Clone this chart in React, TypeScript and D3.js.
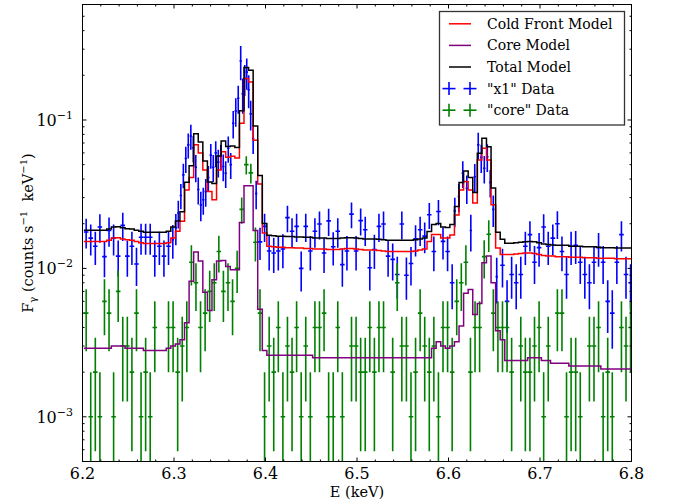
import React from 'react';
import * as d3 from 'd3';

const WIDTH = 678;
const HEIGHT = 504;
const PLOT = { left: 82.5, right: 631.5, top: 4.5, bottom: 461.5 };
const X_DOMAIN: [number, number] = [6.2, 6.8];
const Y_DOMAIN: [number, number] = [5e-4, 0.6];

// spectral binning (keV)
const BIN_START = 6.2015;
const BIN_WIDTH = 0.005;

// model spectra, one value per bin (counts s^-1 keV^-1)
const coldFrontModel = [
  0.0152, 0.0152, 0.0152, 0.0152, 0.0152, 0.0155, 0.0160, 0.0161, 0.0158, 0.0156,
  0.0155, 0.0152, 0.0149, 0.0147, 0.0147, 0.0147, 0.0147, 0.0147, 0.0149, 0.0160,
  0.0178, 0.0208, 0.0338, 0.0410, 0.0680, 0.0600, 0.0460, 0.0330, 0.0290, 0.0460,
  0.0610, 0.0560, 0.0570, 0.0555, 0.0950, 0.1900, 0.1800, 0.0730, 0.0370, 0.0173,
  0.0141, 0.0140, 0.0139, 0.0139, 0.0138, 0.0138, 0.0137, 0.0137, 0.0136, 0.0136,
  0.0135, 0.0135, 0.0135, 0.0134, 0.0134, 0.0134, 0.0135, 0.0136, 0.0136, 0.0135,
  0.0134, 0.0133, 0.0133, 0.0133, 0.0132, 0.0131, 0.0130, 0.0130, 0.0130, 0.0130,
  0.0130, 0.0130, 0.0131, 0.0133, 0.0135, 0.0152, 0.0169, 0.0169, 0.0160, 0.0160,
  0.0168, 0.0229, 0.0338, 0.0385, 0.0338, 0.0276, 0.0538, 0.0645, 0.0538, 0.0268,
  0.0137, 0.0124, 0.0124, 0.0124, 0.0125, 0.0126, 0.0127, 0.0127, 0.0126, 0.0124,
  0.0122, 0.0121, 0.0121, 0.0120, 0.0120, 0.0120, 0.0119, 0.0119, 0.0119, 0.0118,
  0.0118, 0.0118, 0.0117, 0.0117, 0.0117, 0.0117, 0.0116, 0.0116, 0.0116, 0.0116,
];

const coreModel = [
  0.0029, 0.0029, 0.0029, 0.0029, 0.0029, 0.0029, 0.0030, 0.0030, 0.0030, 0.0029,
  0.0029, 0.0029, 0.0029, 0.0028, 0.0028, 0.0028, 0.0028, 0.0028, 0.0029, 0.0030,
  0.0031, 0.0033, 0.0043, 0.0082, 0.0129, 0.0112, 0.0069, 0.0052, 0.0084, 0.0112,
  0.0113, 0.0103, 0.0098, 0.0098, 0.0204, 0.0360, 0.0360, 0.0180, 0.0053, 0.0028,
  0.0026, 0.0026, 0.0026, 0.0026, 0.0026, 0.0026, 0.0026, 0.0026, 0.0026, 0.0026,
  0.0025, 0.0025, 0.0025, 0.0025, 0.0025, 0.0025, 0.0025, 0.0025, 0.0025, 0.0025,
  0.0025, 0.0025, 0.0025, 0.0025, 0.0025, 0.0025, 0.0025, 0.0025, 0.0025, 0.0025,
  0.0025, 0.0025, 0.0025, 0.0025, 0.0025, 0.0025, 0.0029, 0.0032, 0.0030, 0.0029,
  0.0030, 0.0032, 0.0041, 0.0068, 0.0072, 0.0049, 0.0058, 0.0109, 0.0121, 0.0080,
  0.0038, 0.0033, 0.0024, 0.0024, 0.0024, 0.0024, 0.0024, 0.0025, 0.0025, 0.0025,
  0.0024, 0.0024, 0.0023, 0.0023, 0.0023, 0.0023, 0.0022, 0.0022, 0.0022, 0.0022,
  0.0022, 0.0022, 0.0022, 0.0021, 0.0021, 0.0021, 0.0021, 0.0021, 0.0021, 0.0021,
];

// "x1" data on the regular bins (null where the line peaks are finely grouped)
const X1_COUNT_FLUX = 0.0009;
const x1GridFlux: (number | null)[] = [
  0.0176, 0.0160, 0.0141, 0.0190, 0.0120, 0.0180, 0.0160, 0.0121, 0.0195, 0.0121,
  0.0141, 0.0107, 0.0162, 0.0162, 0.0162, 0.0121, 0.0141, 0.0121, 0.0141, null,
  null, null, null, null, null, null, null, null, null, null,
  null, null, null, null, null, null, null, null, 0.0151, 0.0192,
  0.0131, 0.0127, 0.0131, 0.0135, 0.0220, 0.0178, 0.0192, 0.0100, 0.0192, 0.0131,
  0.0178, 0.0199, 0.0127, 0.0209, 0.0140, 0.0178, 0.0106, 0.0131, 0.0232, 0.0131,
  0.0210, 0.0182, 0.0101, 0.0134, 0.0192, 0.0199, 0.0121, 0.0115, 0.0091, 0.0199,
  0.0090, 0.0108, 0.0158, 0.0182, 0.0165, 0.0230, 0.0130, 0.0242, 0.0152, 0.0130,
  0.0080, null, null, null, null, null, null, null, null, null,
  null, 0.0105, 0.0060, 0.0091, 0.0080, 0.0091, 0.0141, 0.0169, 0.0110, 0.0138,
  0.0190, 0.0141, 0.0160, 0.0200, 0.0130, 0.0091, 0.0141, 0.0143, 0.0110, 0.0091,
  0.0080, 0.0110, 0.0138, 0.0110, 0.0060, 0.0050, 0.0110, 0.0169, 0.0091, 0.0080,
];

// "x1" data in the finely grouped line regions
const x1PeakEnergy = [
  6.2987, 6.3020, 6.3047, 6.3075, 6.3102, 6.3129, 6.3156, 6.3184, 6.3211, 6.3238,
  6.3265, 6.3293, 6.3320, 6.3347, 6.3375, 6.3402, 6.3429, 6.3456, 6.3484, 6.3511,
  6.3538, 6.3565, 6.3593, 6.3620, 6.3647, 6.3675, 6.3702, 6.3729, 6.3751, 6.3773,
  6.3795, 6.3816, 6.3838, 6.3865, 6.3898,
  6.6069, 6.6113, 6.6156, 6.6200, 6.6244, 6.6287, 6.6325, 6.6358, 6.6391, 6.6424,
  6.6456, 6.6489, 6.6527,
];
const x1PeakFlux = [
  0.0156, 0.0188, 0.0236, 0.0310, 0.0427, 0.0550, 0.0680, 0.0780, 0.0650, 0.0480,
  0.0340, 0.0268, 0.0290, 0.0330, 0.0410, 0.0580, 0.0480, 0.0600, 0.0520, 0.0570,
  0.0486, 0.0438, 0.0645, 0.0500, 0.0950, 0.1150, 0.1400, 0.2500, 0.1500, 0.1900,
  0.2100, 0.1600, 0.1100, 0.0750, 0.0320,
  0.0244, 0.0305, 0.0438, 0.0347, 0.0180, 0.0415, 0.0680, 0.0560, 0.0473, 0.0566,
  0.0380, 0.0250, 0.0088,
];
const x1PeakErr = [
  0.0040, 0.0045, 0.0050, 0.0060, 0.0080, 0.0110, 0.0130, 0.0150, 0.0130, 0.0100,
  0.0070, 0.0060, 0.0060, 0.0070, 0.0080, 0.0110, 0.0100, 0.0120, 0.0110, 0.0110,
  0.0100, 0.0090, 0.0130, 0.0100, 0.0200, 0.0250, 0.0300, 0.0650, 0.0400, 0.0450,
  0.0500, 0.0400, 0.0250, 0.0160, 0.0070,
  0.0055, 0.0065, 0.0090, 0.0075, 0.0050, 0.0090, 0.0140, 0.0120, 0.0100, 0.0120,
  0.0080, 0.0060, 0.0030,
];

// "core" data: counts per bin
const CORE_COUNT_FLUX = 0.001;
const coreCounts = [
  5, 1, 2, 1, 6, 5, 1, 7, 3, 3,
  2, 5, 1, 2, 1, 4, 0, 0, 4, 4,
  2, 3, 4, 11, 8, 4, 5, 7, 8, 13,
  7, 8, 6, 10, 25, 50, 44, 15, 5, 1,
  3, 2, 4, 1, 3, 2, 4, 1, 3, 1,
  4, 4, 5, 1, 1, 4, 1, 0, 3, 3,
  2, 2, 4, 2, 4, 4, 0, 2, 8, 3,
  3, 1, 2, 5, 3, 2, 3, 1, 4, 4,
  2, 6, 8, 11, 2, 4, 4, 12, 17, 5,
  4, 4, 4, 2, 0, 3, 2, 2, 3, 4,
  1, 3, 0, 5, 5, 1, 2, 2, 1, 0,
  3, 3, 4, 1, 2, 1, 0, 4, 3, 4,
];

const xTicks = [6.2, 6.3, 6.4, 6.5, 6.6, 6.7, 6.8];
const xTickLabels = ['6.2', '6.3', '6.4', '6.5', '6.6', '6.7', '6.8'];
const yTicks = [1e-3, 1e-2, 1e-1];
const yTickExponents = ['\u22123', '\u22122', '\u22121'];

const legendLabels = ['Cold Front Model', 'Core Model', 'Total Model', '"x1" Data', '"core" Data'];
const legendColors = ['#ff0000', '#800080', '#000000', '#0000ff', '#008000'];
const legendKinds = ['line', 'line', 'line', 'cross', 'cross'];

const FONT = 'DejaVu Serif, serif';

type Pt = { e: number; v: number; err: number; hw: number };

export default function App() {
  const x = d3.scaleLinear().domain(X_DOMAIN).range([PLOT.left, PLOT.right]);
  const y = d3.scaleLog().domain(Y_DOMAIN).range([PLOT.bottom, PLOT.top]);
  const nb = coldFrontModel.length;
  const edges = d3.range(nb + 1).map((i) =>
    Math.min(X_DOMAIN[1], Math.max(X_DOMAIN[0], BIN_START + i * BIN_WIDTH))
  );
  const centers = d3.range(nb).map((i) => BIN_START + (i + 0.5) * BIN_WIDTH);
  const totalModel = coldFrontModel.map((v, i) => v + coreModel[i]);

  const step = d3
    .line<[number, number]>()
    .x((d) => x(d[0]))
    .y((d) => y(d[1]))
    .curve(d3.curveStepAfter);
  const stepPath = (vals: number[]) =>
    step([...vals.map((v, i) => [edges[i], v] as [number, number]), [edges[nb], vals[nb - 1]]]) || '';

  const x1Points: Pt[] = [];
  x1GridFlux.forEach((v, i) => {
    if (v !== null) x1Points.push({ e: centers[i], v, err: Math.sqrt(v * X1_COUNT_FLUX), hw: BIN_WIDTH / 2 });
  });
  x1PeakEnergy.forEach((e, k) => {
    x1Points.push({ e, v: x1PeakFlux[k], err: x1PeakErr[k], hw: 0.0013 });
  });
  const corePoints: Pt[] = [];
  coreCounts.forEach((n, i) => {
    if (n > 0)
      corePoints.push({
        e: centers[i],
        v: n * CORE_COUNT_FLUX,
        err: Math.sqrt(n) * CORE_COUNT_FLUX,
        hw: BIN_WIDTH / 2,
      });
  });

  const yLo = (v: number) => (v <= Y_DOMAIN[0] ? PLOT.bottom + 2 : y(v));
  const errBars = (pts: Pt[], color: string, key: string) => (
    <g key={key} stroke={color} strokeWidth={1.6} fill="none">
      {pts.map((p, k) => (
        <g key={k}>
          <line x1={x(p.e)} x2={x(p.e)} y1={yLo(p.v - p.err)} y2={y(p.v + p.err)} />
          <line x1={x(p.e - p.hw)} x2={x(p.e + p.hw)} y1={y(p.v)} y2={y(p.v)} />
        </g>
      ))}
    </g>
  );

  // ticks
  const xMinor = d3.range(0, 31).filter((i) => i % 5 !== 0).map((i) => 6.2 + i * 0.02);
  const yMinor: number[] = [];
  for (let d = -4; d <= -1; d++) {
    for (let m = 2; m <= 9; m++) {
      const v = m * Math.pow(10, d);
      if (v >= Y_DOMAIN[0] && v <= Y_DOMAIN[1]) yMinor.push(v);
    }
  }
  const MAJ = 4;
  const MIN = 2;

  const legend = { x: 439.5, y: 11.5, w: 185, h: 113.5 };
  const rowY = (k: number) => legend.y + 12.3 + k * 21.6;

  return (
    <svg
      width={WIDTH}
      height={HEIGHT}
      style={{ position: 'absolute', left: 0, top: 0, background: '#fff' }}
      fontFamily={FONT}
    >
      <rect x={0} y={0} width={WIDTH} height={HEIGHT} fill="#fff" />
      <defs>
        <clipPath id="plotClip">
          <rect x={PLOT.left} y={PLOT.top} width={PLOT.right - PLOT.left} height={PLOT.bottom - PLOT.top} />
        </clipPath>
      </defs>

      <g clipPath="url(#plotClip)">
        {errBars(x1Points, '#0000ff', 'x1')}
        {errBars(corePoints, '#008000', 'core')}
        <path d={stepPath(coldFrontModel)} fill="none" stroke="#ff0000" strokeWidth={1.5} />
        <path d={stepPath(coreModel)} fill="none" stroke="#800080" strokeWidth={1.5} />
        <path d={stepPath(totalModel)} fill="none" stroke="#000000" strokeWidth={1.5} />
      </g>

      {/* frame */}
      <rect
        x={PLOT.left}
        y={PLOT.top}
        width={PLOT.right - PLOT.left}
        height={PLOT.bottom - PLOT.top}
        fill="none"
        stroke="#000"
        strokeWidth={1}
      />

      {/* ticks */}
      <g stroke="#000" strokeWidth={1}>
        {xTicks.map((t, k) => (
          <g key={'xt' + k}>
            <line x1={x(t)} x2={x(t)} y1={PLOT.bottom} y2={PLOT.bottom - MAJ} />
            <line x1={x(t)} x2={x(t)} y1={PLOT.top} y2={PLOT.top + MAJ} />
          </g>
        ))}
        {xMinor.map((t, k) => (
          <g key={'xm' + k}>
            <line x1={x(t)} x2={x(t)} y1={PLOT.bottom} y2={PLOT.bottom - MIN} />
            <line x1={x(t)} x2={x(t)} y1={PLOT.top} y2={PLOT.top + MIN} />
          </g>
        ))}
        {yTicks.map((t, k) => (
          <g key={'yt' + k}>
            <line x1={PLOT.left} x2={PLOT.left + MAJ} y1={y(t)} y2={y(t)} />
            <line x1={PLOT.right} x2={PLOT.right - MAJ} y1={y(t)} y2={y(t)} />
          </g>
        ))}
        {yMinor.map((t, k) => (
          <g key={'ym' + k}>
            <line x1={PLOT.left} x2={PLOT.left + MIN} y1={y(t)} y2={y(t)} />
            <line x1={PLOT.right} x2={PLOT.right - MIN} y1={y(t)} y2={y(t)} />
          </g>
        ))}
      </g>

      {/* tick labels */}
      <g fontSize={16} fill="#000">
        {xTicks.map((t, k) => (
          <text key={'xl' + k} x={x(t)} y={478.5} textAnchor="middle">
            {xTickLabels[k]}
          </text>
        ))}
        {yTicks.map((t, k) => (
          <text key={'yl' + k} x={73} y={y(t) + 6} textAnchor="end">
            10
            <tspan fontSize={11} dy={-7}>
              {yTickExponents[k]}
            </tspan>
          </text>
        ))}
      </g>

      {/* axis labels */}
      <text x={(PLOT.left + PLOT.right) / 2} y={497} textAnchor="middle" fontSize={14.5}>
        E (keV)
      </text>
      <text
        transform={`translate(33, ${(PLOT.top + PLOT.bottom) / 2}) rotate(-90)`}
        textAnchor="middle"
        fontSize={14.5}
      >
        F
        <tspan fontSize={10} dy={3}>
          γ
        </tspan>
        <tspan dy={-3}> (counts s</tspan>
        <tspan fontSize={10} dy={-6}>
          −1
        </tspan>
        <tspan dy={6}>{'\u00a0 keV'}</tspan>
        <tspan fontSize={10} dy={-6}>
          −1
        </tspan>
        <tspan dy={6}>)</tspan>
      </text>

      {/* legend */}
      <g>
        <rect x={legend.x} y={legend.y} width={legend.w} height={legend.h} fill="#fff" stroke="#333" strokeWidth={1.3} />
        {legendLabels.map((lab, k) => {
          const cy = rowY(k);
          const col = legendColors[k];
          return (
            <g key={'lg' + k}>
              {legendKinds[k] === 'line' ? (
                <line x1={449} x2={471} y1={cy} y2={cy} stroke={col} strokeWidth={1.5} />
              ) : (
                <g stroke={col} strokeWidth={1.6}>
                  {[449, 470].map((cx) => (
                    <g key={cx}>
                      <line x1={cx - 6.5} x2={cx + 6.5} y1={cy} y2={cy} />
                      <line x1={cx} x2={cx} y1={cy - 6.5} y2={cy + 6.5} />
                    </g>
                  ))}
                </g>
              )}
              <text x={487} y={cy + 5} fontSize={14} fill="#000">
                {lab}
              </text>
            </g>
          );
        })}
      </g>
    </svg>
  );
}
